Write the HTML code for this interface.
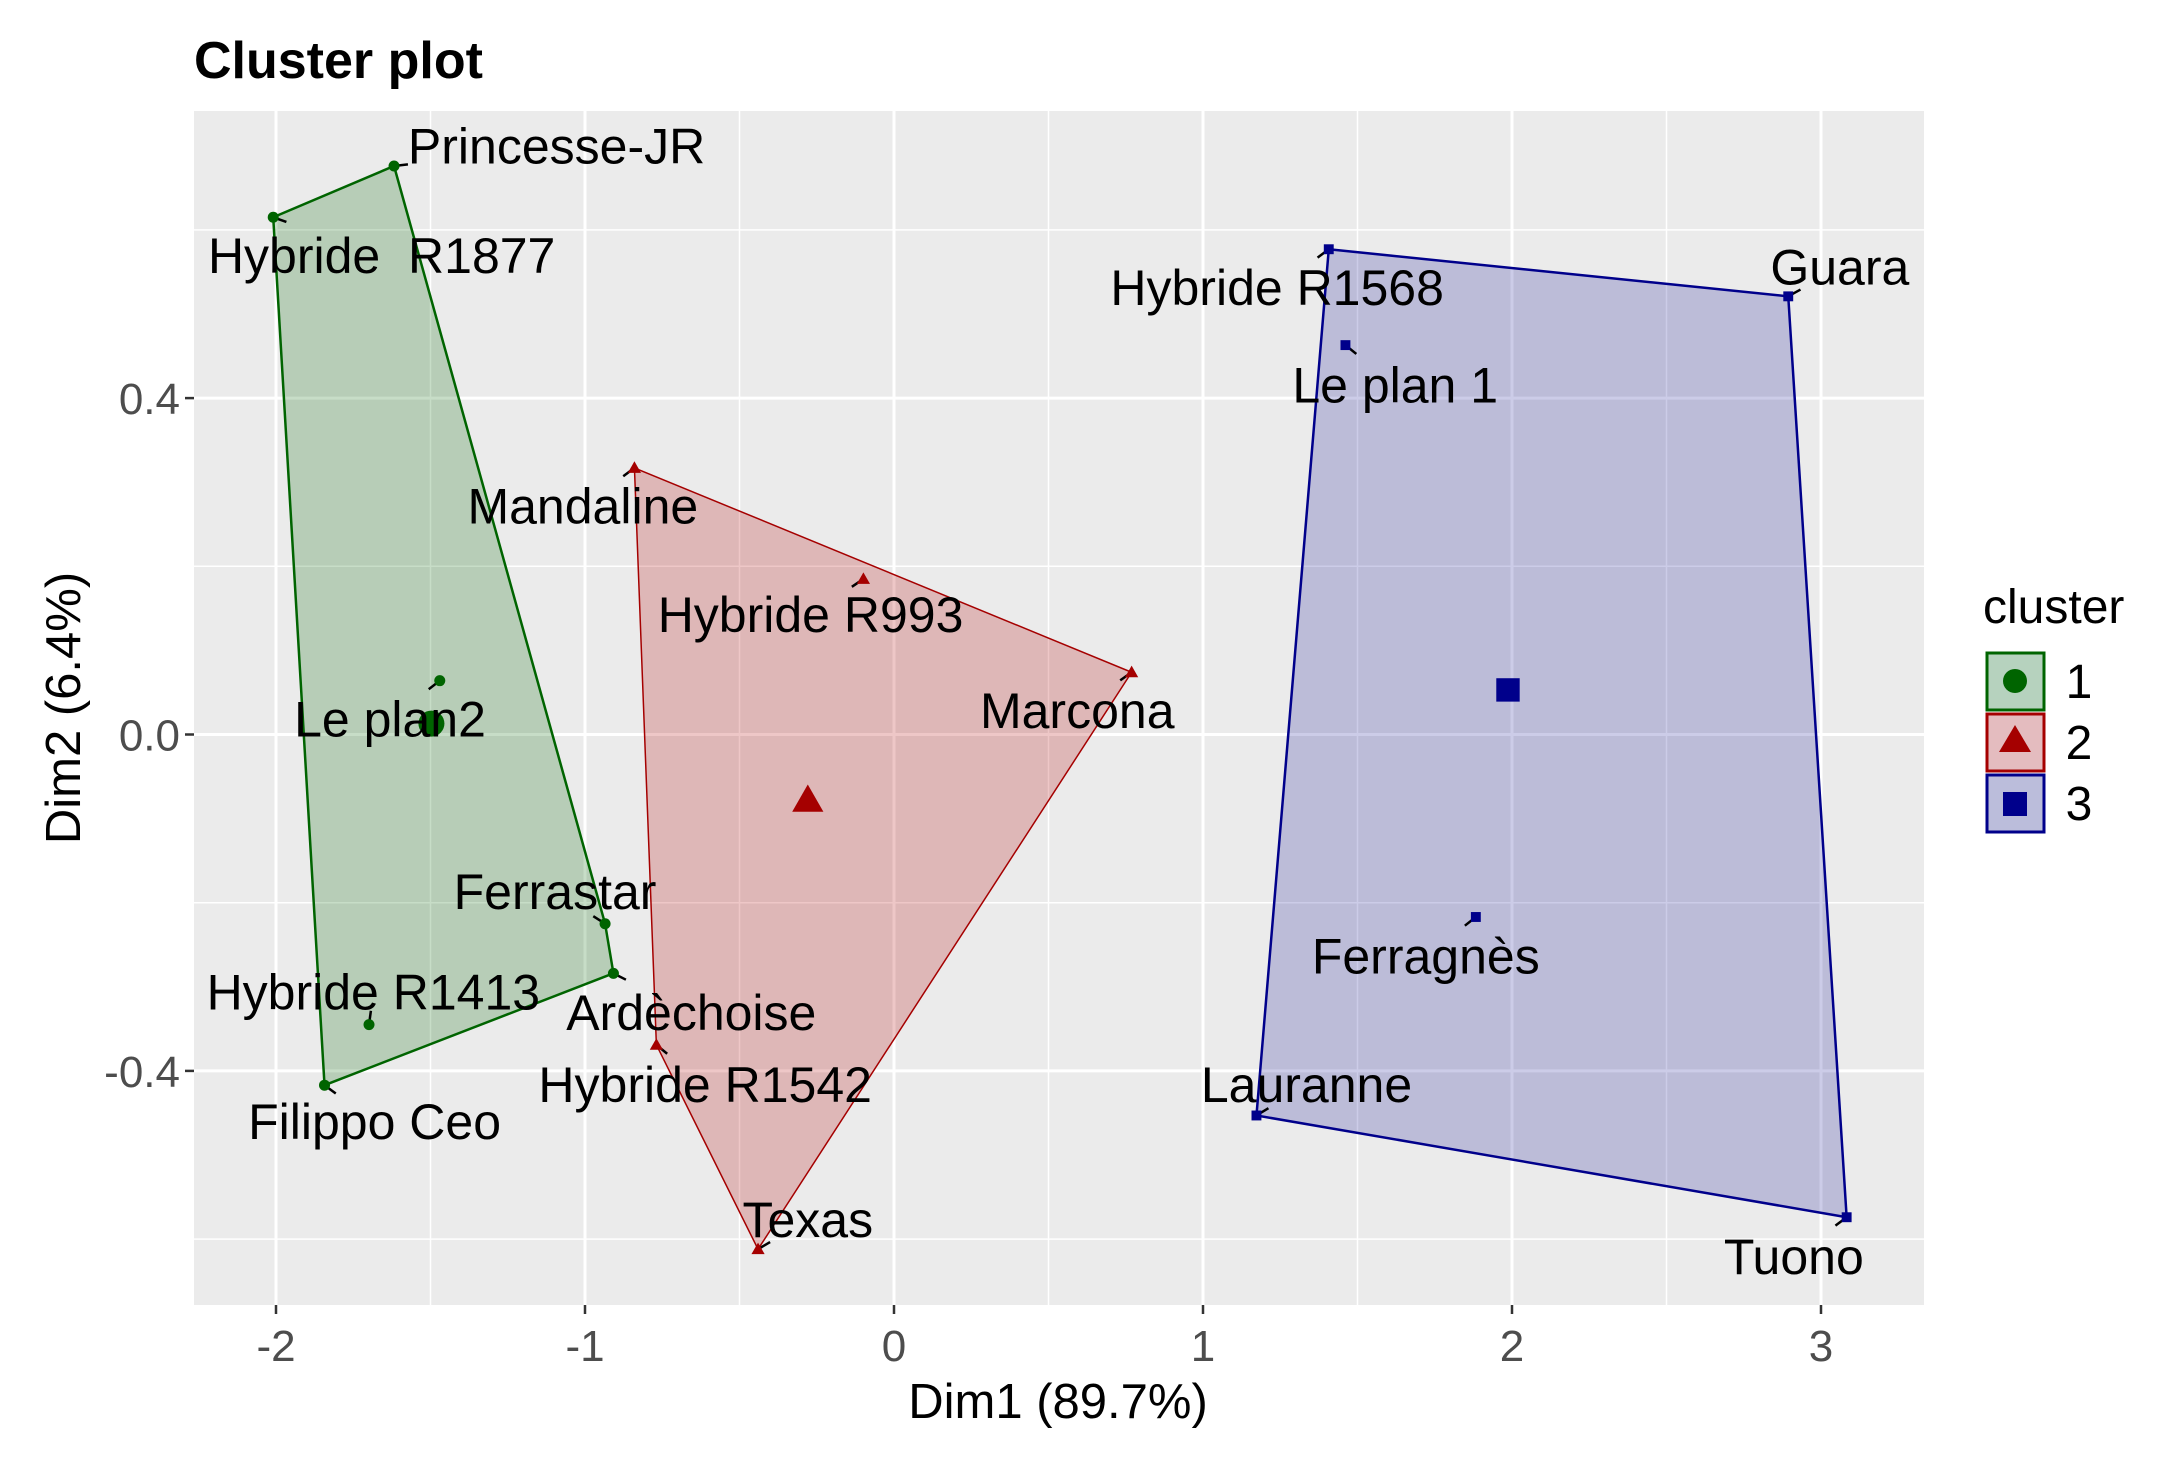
<!DOCTYPE html>
<html><head><meta charset="utf-8"><style>
body{margin:0;background:#fff;}
svg text{font-family:"Liberation Sans",sans-serif;}
</style></head><body>
<svg id="chart" width="2166" height="1468" viewBox="0 0 2166 1468" xmlns="http://www.w3.org/2000/svg">
<text x="194" y="78" font-size="52" font-weight="bold" fill="#000">Cluster plot</text>
<rect x="194" y="111" width="1730" height="1194" fill="#ebebeb"/>
<g id="grid"></g>
<g id="hulls"></g>
<g id="segs"></g>
<g id="points"></g>
<g id="labels"></g>
<g id="axes"></g>
<text x="1058" y="1418" font-size="49" text-anchor="middle" fill="#000">Dim1 (89.7%)</text>
<text transform="translate(80,708) rotate(-90)" font-size="49" text-anchor="middle" fill="#000">Dim2 (6.4%)</text>
<g>
<text x="1983" y="623" font-size="48" fill="#000">cluster</text>
<g><rect x="1987" y="653" width="57" height="57" fill="#b6d2be" stroke="#006400" stroke-width="3"/><circle cx="2015" cy="681" r="12" fill="#006400"/><text x="2079" y="698" font-size="48" text-anchor="middle">1</text></g>
<g><rect x="1987" y="714" width="57" height="57" fill="#e4bcbf" stroke="#a50000" stroke-width="3"/><polygon points="2015,725 2031,752 1999,752" fill="#a50000"/><text x="2079" y="759" font-size="48" text-anchor="middle">2</text></g>
<g><rect x="1987" y="775" width="57" height="57" fill="#bbbddb" stroke="#00008b" stroke-width="3"/><rect x="2003" y="792" width="24" height="24" fill="#00008b"/><text x="2079" y="820" font-size="48" text-anchor="middle">3</text></g>
</g>
</svg>
<script>
const names=["Princesse-JR","Hybride  R1877","Le plan2","Ferrastar","Ardèchoise","Hybride R1413","Filippo Ceo","Mandaline","Hybride R993","Marcona","Hybride R1542","Texas","Hybride R1568","Guara","Le plan 1","Ferragnès","Lauranne","Tuono"];
const clusters=[1,1,1,1,1,1,1,2,2,2,2,2,3,3,3,3,3,3];
const dim1=[-1.618,-2.009,-1.47,-0.935,-0.908,-1.699,-1.843,-0.840,-0.099,0.769,-0.769,-0.440,1.407,2.894,1.461,1.883,1.173,3.083];
const dim2=[0.676,0.615,0.064,-0.225,-0.284,-0.345,-0.417,0.317,0.185,0.074,-0.369,-0.612,0.577,0.521,0.463,-0.217,-0.453,-0.574];
const labelX=[-1.092,-1.658,-1.631,-1.097,-0.656,-1.685,-1.681,-1.007,-0.270,0.593,-0.611,-0.279,1.240,3.061,1.622,1.721,1.335,2.912];
const labelY=[0.699,0.569,0.018,-0.187,-0.331,-0.307,-0.461,0.271,0.142,0.028,-0.417,-0.577,0.531,0.555,0.415,-0.264,-0.417,-0.621];
const hull1=[1,0,3,4,6];
const hull2=[7,9,11,10];
const hull3=[12,13,17,16];
const centerX=[-1.497,-0.279,1.987];
const centerY=[0.013,-0.078,0.053];
const xTicks=[-2,-1,0,1,2,3];
const yTicks=[-0.4,0,0.4];
const yTickLabels=["-0.4","0.0","0.4"];
const L=194,R=1924,T=111,B=1305;
const X=v=>894+v*309.0;
const Y=v=>734.5-v*841;
const NS="http://www.w3.org/2000/svg";
function mk(tag,attrs,parent){const e=document.createElementNS(NS,tag);for(const k in attrs)e.setAttribute(k,attrs[k]);document.getElementById(parent).appendChild(e);return e;}
const cols={1:"#006400",2:"#a50000",3:"#00008b"};
for(let v=-2.5;v<=3.5;v+=0.5){const x=X(v);if(x<L||x>R)continue;const major=Math.abs(v-Math.round(v))<1e-6;
const g=mk("line",{x1:x,x2:x,y1:T,y2:B,stroke:"#fff","stroke-width":major?3:1.5},"grid");

}
for(let v=-0.8;v<=0.8;v+=0.2){const y=Y(v);if(y<T||y>B)continue;const major=Math.abs(v/0.4-Math.round(v/0.4))<1e-6;
const g=mk("line",{x1:L,x2:R,y1:y,y2:y,stroke:"#fff","stroke-width":major?3:1.5},"grid");

}
const fills={1:"#006400",2:"#b00000",3:"#00008b"};
[hull1,hull2,hull3].forEach((h,i)=>{const c=i+1;
const p=mk("polygon",{points:h.map(j=>X(dim1[j])+","+Y(dim2[j])).join(" "),fill:fills[c],"fill-opacity":c==3?0.2:0.22,stroke:cols[c],"stroke-width":c==2?1.5:2.5},"hulls");

});
function marker(c,x,y,s,parent,name){let e;
if(c==1)e=mk("circle",{cx:x,cy:y,r:s*0.5,fill:cols[c]},parent);
else if(c==2)e=mk("polygon",{points:`${x},${y-s*0.6} ${x+s*0.6},${y+s*0.45} ${x-s*0.6},${y+s*0.45}`,fill:cols[c]},parent);
else e=mk("rect",{x:x-s*0.45,y:y-s*0.45,width:s*0.9,height:s*0.9,fill:cols[c]},parent);

}
names.forEach((n,i)=>{const x=X(dim1[i]),y=Y(dim2[i]);
const lx=X(labelX[i]),ly=Y(labelY[i]);const dx=lx-x,dy=ly-y,d=Math.hypot(dx,dy)||1;
const s=mk("line",{x1:x,y1:y,x2:x+dx/d*14,y2:y+dy/d*14,stroke:"#000","stroke-width":2.5},"segs");


marker(clusters[i],x,y,11,"points","point-"+n.replace(/\s+/g,'-').toLowerCase());
const t=mk("text",{x:lx,y:ly+17,"font-size":50,"text-anchor":"middle",fill:"#000"},"labels");


t.style.whiteSpace="pre";t.textContent=n;});
centerX.forEach((v,i)=>marker(i+1,X(v),Y(centerY[i]),26,"points","cluster-center-"+(i+1)));
xTicks.forEach(v=>{const x=X(v);
const l=mk("line",{x1:x,x2:x,y1:B,y2:B+9,stroke:"#333","stroke-width":2.5},"axes");


const t=mk("text",{x:x,y:B+56,"font-size":44,"text-anchor":"middle",fill:"#4d4d4d"},"axes");


t.textContent=String(v);});
yTicks.forEach((v,i)=>{const y=Y(v);
const l=mk("line",{x1:L-9,x2:L,y1:y,y2:y,stroke:"#333","stroke-width":2.5},"axes");


const t=mk("text",{x:L-14,y:y+16,"font-size":44,"text-anchor":"end",fill:"#4d4d4d"},"axes");


t.textContent=yTickLabels[i];});
</script>
</body></html>
